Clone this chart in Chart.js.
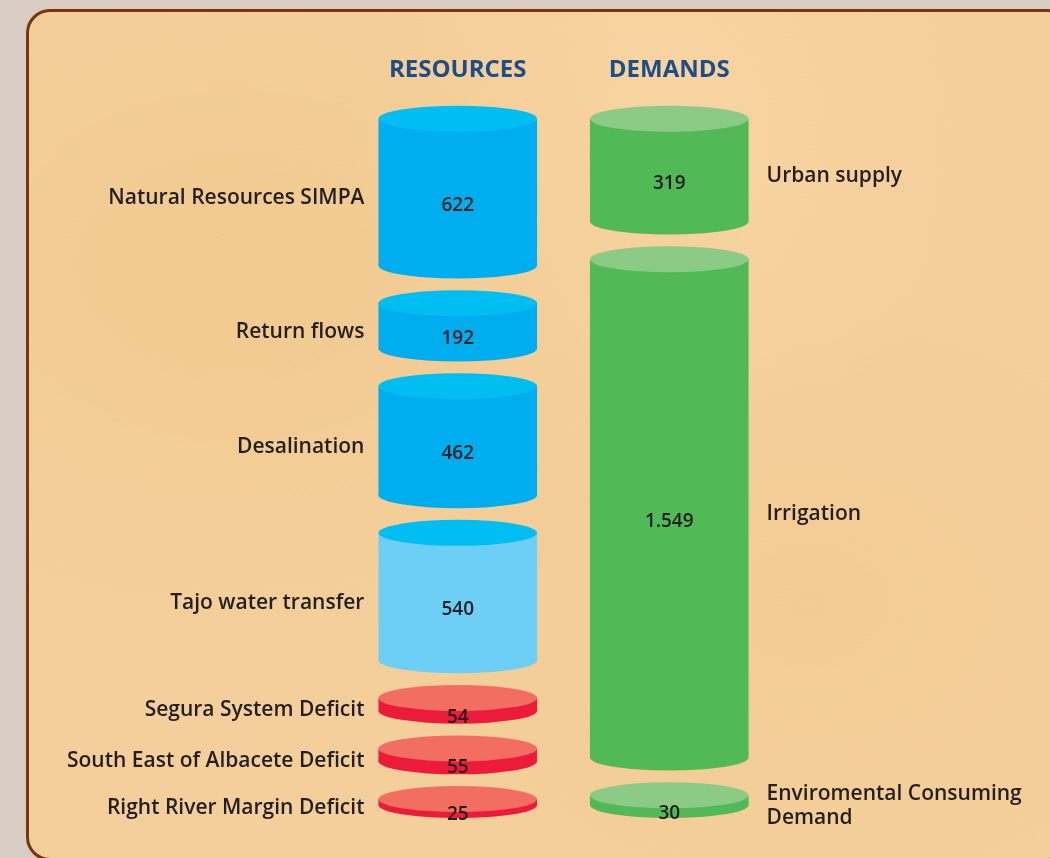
<!doctype html>
<html lang="en">
<head>
<meta charset="UTF-8">
<title>Segura basin - resources and demands</title>
<style>
  html, body { margin: 0; padding: 0; width: 1050px; height: 858px; overflow: hidden; background: #d9ccc3; }
  #panel {
    position: absolute; left: 26px; top: 9px; width: 1040px; height: 846px;
    border: 3px solid #7b3410; border-radius: 24px;
    background:
      radial-gradient(ellipse at 20% 30%, rgba(236,196,132,.45), rgba(236,196,132,0) 45%),
      radial-gradient(ellipse at 75% 70%, rgba(238,198,138,.4), rgba(238,198,138,0) 40%),
      radial-gradient(ellipse at 60% 15%, rgba(250,218,170,.5), rgba(250,218,170,0) 35%),
      #f5cf9b;
  }
  #wrap { position: absolute; left: 0; top: 0; width: 1050px; height: 858px; }
</style>
</head>
<body>
<div id="panel"></div>
<div id="wrap"><canvas id="chart" width="1050" height="858"></canvas></div>

<script src="https://cdn.jsdelivr.net/npm/chart.js"></script>
<script>
    // hm3/year
    const columns = ['RESOURCES', 'DEMANDS'];

    const resourceNames = ['Natural Resources SIMPA', 'Return flows', 'Desalination', 'Tajo water transfer',
        'Segura System Deficit', 'South East of Albacete Deficit', 'Right River Margin Deficit'];
    const resourceValues = [622, 192, 462, 540, 54, 55, 25];
    const resourceKinds = ['own', 'own', 'own', 'transfer', 'deficit', 'deficit', 'deficit'];

    const demandNames = ['Urban supply', 'Irrigation', ['Enviromental Consuming', 'Demand']];
    const demandValues = [319, 1549, 30];

    const colors = {
        own: { body: '#00aeef', cap: '#00bdf2' },
        transfer: { body: '#6dcff6', cap: '#00bdf2' },
        deficit: { body: '#ed1b3a', cap: '#f26e61' },
        demand: { body: '#52b957', cap: '#8ccb85' }
    };

    const GAP_SHARE = 0.055;  // share of a column left empty between two cylinders
    const CAP_RY = 13;
    const TEXT = '#231f20';
    const FONT = '"Open Sans", "DejaVu Sans", sans-serif';

    // each segment becomes a floating bar [start, end] on its column's axis
    function spans(values) {
        const total = values.reduce((a, b) => a + b, 0);
        const max = total / (1 - (values.length - 1) * GAP_SHARE);
        const gap = max * GAP_SHARE;
        let pos = 0;
        const out = values.map(v => {
            const s = [pos, pos + v];
            pos += v + gap;
            return s;
        });
        return { out, max };
    }

    function fmt(v) {
        return String(v).replace(/\B(?=(\d{3})+(?!\d))/g, '.');
    }

    const R = spans(resourceValues);
    const D = spans(demandValues);

    const datasets = [];
    resourceValues.forEach((v, i) => datasets.push({
        label: resourceNames[i],
        data: [R.out[i], null],
        yAxisID: 'yR',
        backgroundColor: colors[resourceKinds[i]].body,
        capColor: colors[resourceKinds[i]].cap,
        value: v,
        side: 'left'
    }));
    demandValues.forEach((v, i) => datasets.push({
        label: demandNames[i],
        data: [null, D.out[i]],
        yAxisID: 'yD',
        backgroundColor: colors.demand.body,
        capColor: colors.demand.cap,
        value: v,
        side: 'right'
    }));

    // ellipse caps, values and names around every bar
    const cylinders = {
        id: 'cylinders',
        afterDatasetsDraw(chart) {
            const ctx = chart.ctx;
            chart.data.datasets.forEach((ds, di) => {
                const meta = chart.getDatasetMeta(di);
                meta.data.forEach((bar, i) => {
                    if (ds.data[i] == null) return;
                    const p = bar.getProps(['x', 'y', 'base', 'width'], true);
                    const top = Math.min(p.y, p.base), bottom = Math.max(p.y, p.base);
                    const rx = p.width / 2;
                    ctx.save();
                    ctx.fillStyle = ds.backgroundColor;
                    ctx.beginPath();
                    ctx.ellipse(p.x, bottom, rx, CAP_RY, 0, 0, 2 * Math.PI);
                    ctx.fill();
                    ctx.fillStyle = ds.capColor;
                    ctx.beginPath();
                    ctx.ellipse(p.x, top, rx, CAP_RY, 0, 0, 2 * Math.PI);
                    ctx.fill();

                    ctx.fillStyle = TEXT;
                    ctx.textBaseline = 'middle';
                    ctx.textAlign = 'center';
                    ctx.font = '600 19px ' + FONT;
                    ctx.fillText(fmt(ds.value), p.x, (top + bottom) / 2 + CAP_RY);

                    ctx.font = '600 21px ' + FONT;
                    const lines = [].concat(ds.label);
                    const mid = (top + bottom) / 2 + 6;
                    const lh = 24;
                    lines.forEach((t, k) => {
                        const ly = mid + (k - (lines.length - 1) / 2) * lh;
                        if (ds.side === 'left') {
                            ctx.textAlign = 'right';
                            ctx.fillText(t, p.x - rx - 14, ly);
                        } else {
                            ctx.textAlign = 'left';
                            ctx.fillText(t, p.x + rx + 18, ly);
                        }
                    });
                    ctx.restore();
                });
            });
        }
    };

    new Chart(document.getElementById('chart'), {
        type: 'bar',
        data: { labels: columns, datasets: datasets },
        options: {
            responsive: false,
            animation: false,
            layout: { padding: { left: 352, right: 275, top: 30, bottom: 53 } },
            datasets: {
                bar: { grouped: false, barPercentage: 0.75, categoryPercentage: 1, borderWidth: 0 }
            },
            plugins: { legend: { display: false }, tooltip: { enabled: false } },
            scales: {
                x: {
                    position: 'top',
                    grid: { display: false },
                    border: { display: false },
                    ticks: {
                        padding: 26, maxRotation: 0, autoSkip: false,
                        color: '#1c4e8a', font: { family: FONT, weight: 'bold', size: 24 }
                    }
                },
                yR: { display: false, reverse: true, min: 0, max: R.max },
                yD: { display: false, reverse: true, min: 0, max: D.max }
            }
        },
        plugins: [cylinders]
    });
</script>
</body>
</html>
